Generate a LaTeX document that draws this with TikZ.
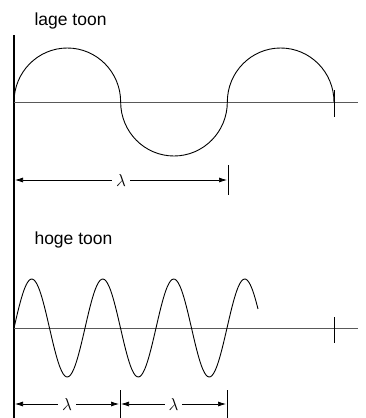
\documentclass[tikz,border=0pt]{standalone}
\usepackage{fontspec}
\setmainfont{Liberation Sans}
\usetikzlibrary{arrows.meta}

\begin{document}
\begin{tikzpicture}[x=1pt, y=-1pt,
    wave/.style={line width=0.9pt},
    axisline/.style={black!65, line width=0.7pt},
    dimline/.style={black, line width=0.7pt, {Latex[length=8pt,width=5pt]}-{Latex[length=8pt,width=5pt]}},
    tick/.style={line width=0.9pt},
    title/.style={font=\fontsize{17.5}{20}\selectfont, anchor=base west},
    lam/.style={fill=white, inner sep=4pt, font=\LARGE}]

\useasboundingbox (0,0) rectangle (365,418);

% ========== Left edge ==========
\draw[line width=1.3pt] (14,35) -- (14,418);

% ========== Section 1: lage toon ==========
\node[title] (lage) at (31,25) {lage toon};

% axis
\coordinate (a1s) at (14,102);
\coordinate (a1e) at (358,102);
\draw[axisline] (a1s) -- (a1e);
\draw[tick] (334,90) -- (334,117);

% wave - three half circles
\draw[wave] (a1s) arc[start angle=180, end angle=360, x radius=53.33, y radius=54]
                  arc[start angle=180, end angle=0, x radius=53.33, y radius=54]
                  arc[start angle=180, end angle=360, x radius=53.33, y radius=54];

% wavelength
\coordinate (l1s) at (15,180);
\coordinate (l1e) at (227,180);
\draw[tick] (228,165) -- (228,195);
\draw[dimline] (l1s) -- node[lam] (lam1) {$\lambda$} (l1e);

% ========== Section 2: hoge toon ==========
\node[title] (hoge) at (31,244) {hoge toon};

% axis
\coordinate (a2s) at (14,328);
\coordinate (a2e) at (358,328);
\draw[axisline] (a2s) -- (a2e);
\draw[tick] (334,317) -- (334,343);

% wave
\draw[wave] plot[domain=0:244, samples=160, smooth] ({14+\x}, {328-49*sin(\x/71*360)});

% wavelengths
\coordinate (l2a) at (15,404);
\coordinate (l2b) at (119,404);
\coordinate (l2c) at (121,404);
\coordinate (l2d) at (226,404);
\draw[tick] (120,390) -- (120,418);
\draw[tick] (227,390) -- (227,418);
\draw[dimline] (l2a) -- node[lam] (lam2) {$\lambda$} (l2b);
\draw[dimline] (l2c) -- node[lam] (lam3) {$\lambda$} (l2d);

\end{tikzpicture}
\end{document}
